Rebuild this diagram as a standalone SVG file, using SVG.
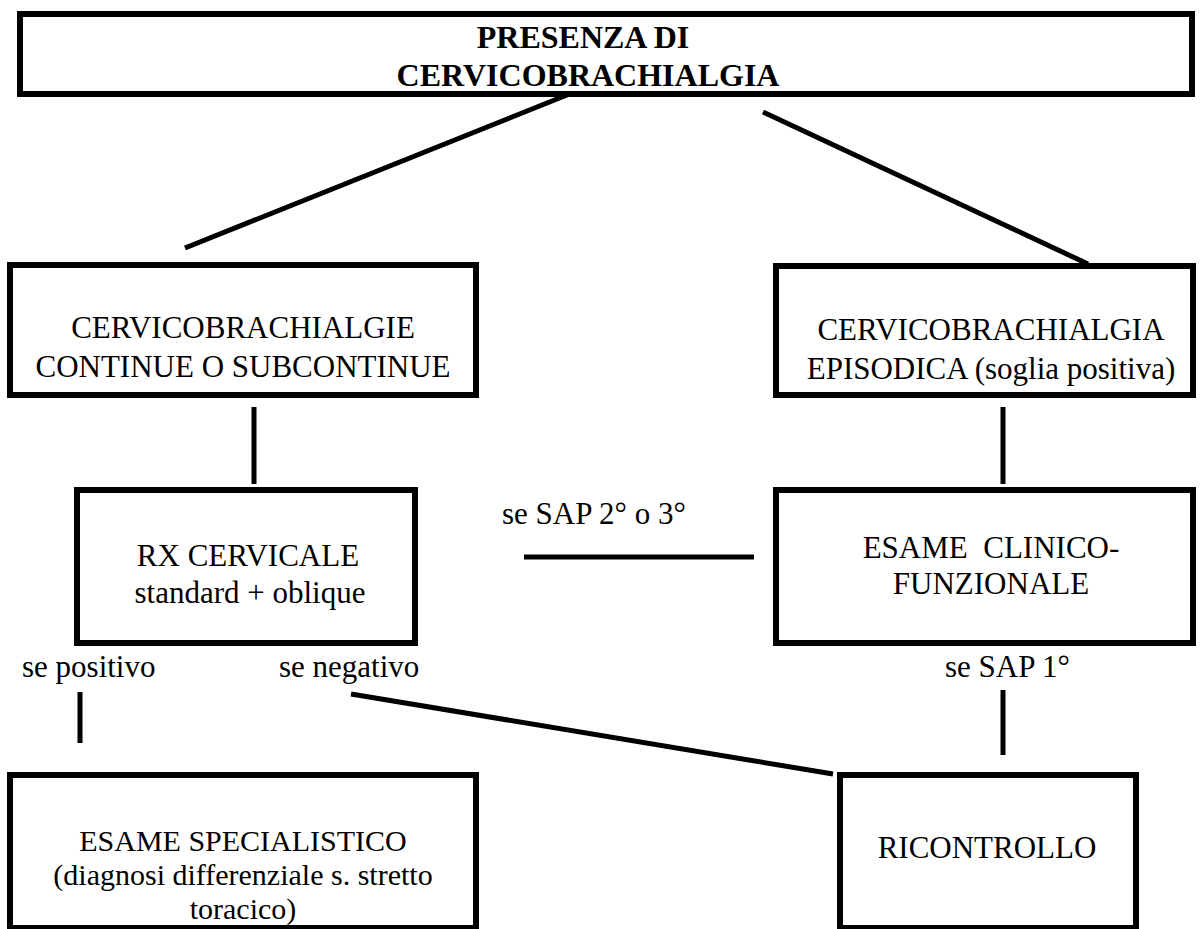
<svg xmlns="http://www.w3.org/2000/svg" width="1202" height="929" viewBox="0 0 1202 929">
<style>
.box{fill:#fff;stroke:#000;stroke-width:6}
.ln{stroke:#000;stroke-width:5;fill:none}
text{font-family:"Liberation Serif","Times New Roman",serif;font-size:31px;fill:#000}
.c{text-anchor:middle}
.b{font-weight:bold}
.s{font-size:30px}
</style>
<rect width="1202" height="929" fill="#fff"/>
<g id="connectors">
<line class="ln" x1="185" y1="248" x2="567" y2="95"/>
<line class="ln" x1="763" y1="112" x2="1088" y2="264"/>
<line class="ln" x1="254" y1="407" x2="254" y2="484"/>
<line class="ln" x1="1003" y1="407" x2="1003" y2="484"/>
<line class="ln" x1="524" y1="557" x2="754" y2="557"/>
<line class="ln" x1="80" y1="692" x2="80" y2="743"/>
<line class="ln" x1="351" y1="694" x2="833" y2="774"/>
<line class="ln" x1="1003" y1="690" x2="1003" y2="755"/>
<text x="502" y="524">se SAP 2° o 3°</text>
<text x="22" y="677">se positivo</text>
<text x="279" y="677">se negativo</text>
<text x="945" y="677">se SAP 1°</text>
</g>
<g id="n-top">
<rect class="box" x="20" y="14" width="1172" height="80"/>
<text class="c b" x="583" y="48" style="font-size:32px">PRESENZA DI</text>
<text class="c b" x="588" y="86" style="font-size:32px">CERVICOBRACHIALGIA</text>
</g>
<g id="n-continue">
<rect class="box" x="10" y="265" width="466" height="130"/>
<text class="c" x="243" y="338">CERVICOBRACHIALGIE</text>
<text class="c" x="243" y="377">CONTINUE O SUBCONTINUE</text>
</g>
<g id="n-episodica">
<rect class="box" x="776" y="266" width="417" height="129"/>
<text class="c" x="991" y="340">CERVICOBRACHIALGIA</text>
<text class="c" x="991" y="379">EPISODICA (soglia positiva)</text>
</g>
<g id="n-rx">
<rect class="box" x="77" y="490" width="338" height="153"/>
<text class="c" x="248" y="566">RX CERVICALE</text>
<text class="c" x="250" y="603">standard + oblique</text>
</g>
<g id="n-clinico">
<rect class="box" x="776" y="490" width="417" height="153"/>
<text class="c" x="991" y="558" xml:space="preserve">ESAME  CLINICO-</text>
<text class="c" x="991" y="594">FUNZIONALE</text>
</g>
<g id="n-specialistico">
<rect class="box" x="10" y="775" width="466" height="153"/>
<text class="c s" x="243" y="851">ESAME SPECIALISTICO</text>
<text class="c s" x="243" y="885">(diagnosi differenziale s. stretto</text>
<text class="c s" x="243" y="919">toracico)</text>
</g>
<g id="n-ricontrollo">
<rect class="box" x="840" y="775" width="296" height="153"/>
<text class="c" x="987" y="858">RICONTROLLO</text>
</g>
</svg>
